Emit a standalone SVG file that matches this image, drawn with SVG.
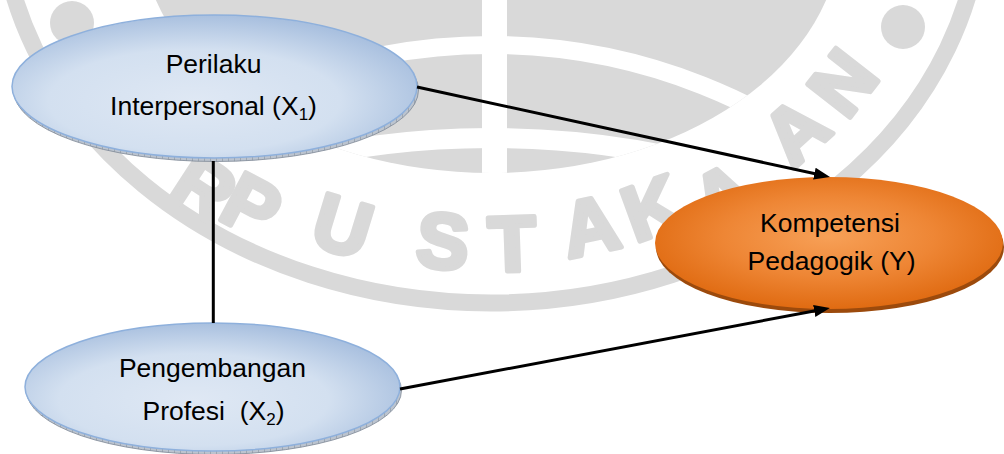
<svg xmlns="http://www.w3.org/2000/svg" width="1004" height="454" viewBox="0 0 1004 454">
<style>
.wm{fill:#d9d9d9}
.wl{font-family:"Liberation Sans",Arial,sans-serif;font-weight:bold;font-size:78px;fill:#d9d9d9;stroke:#d9d9d9;stroke-width:5;stroke-linejoin:round;text-anchor:middle}
.lbl{font-family:"Liberation Sans",Arial,sans-serif;font-size:26.5px;fill:#000;text-anchor:middle}
.sub{font-size:17px}
.conn{stroke:#000;stroke-width:3;fill:none}
</style>
<defs>
<radialGradient id="gBlue" cx="0.45" cy="0.6" r="0.6">
<stop offset="0" stop-color="#dfe8f4"/>
<stop offset="0.6" stop-color="#d3e0f0"/>
<stop offset="1" stop-color="#a9c0df"/>
</radialGradient>
<radialGradient id="gOrange" cx="0.5" cy="0.45" r="0.55">
<stop offset="0" stop-color="#f7a057"/>
<stop offset="0.55" stop-color="#ee8635"/>
<stop offset="1" stop-color="#e06b12"/>
</radialGradient>
<pattern id="hatch" width="6" height="6" patternUnits="userSpaceOnUse">
<rect width="6" height="6" fill="#bcc4cf"/>
<path d="M0,0 L0,6" stroke="#6f7a88" stroke-width="0.8"/>
</pattern>
<clipPath id="globeClip"><ellipse cx="491" cy="-70" rx="350" ry="243"/></clipPath>
<marker id="arrow" markerUnits="userSpaceOnUse" markerWidth="16" markerHeight="12" refX="8" refY="6" orient="auto">
<path d="M0,0 L16,6 L0,12 z" fill="#000"/>
</marker>
</defs>
<rect width="1004" height="454" fill="#fff"/>
<g id="watermark">
<ellipse cx="491" cy="-100" rx="491" ry="403" fill="none" stroke="#d9d9d9" stroke-width="17"/>
<g clip-path="url(#globeClip)">
<rect x="130" y="0" width="740" height="200" class="wm"/>
<circle cx="491" cy="619" r="574" fill="none" stroke="#fff" stroke-width="18"/>
<circle cx="491" cy="1021" r="883" fill="none" stroke="#fff" stroke-width="20"/>
<rect x="482" y="0" width="25" height="200" fill="#fff"/>
</g>
<circle cx="72" cy="23" r="22" class="wm"/>
<circle cx="903" cy="27" r="22" class="wm"/>
<text class="wl" transform="translate(205,187) rotate(33)" x="0" y="28">R</text>
<text class="wl" transform="translate(252,205) rotate(28)" x="0" y="28">P</text>
<text class="wl" transform="translate(343,225) rotate(17)" x="0" y="28">U</text>
<text class="wl" transform="translate(443,240) rotate(5)" x="0" y="28">S</text>
<text class="wl" transform="translate(512,243) rotate(-2)" x="0" y="28">T</text>
<text class="wl" transform="translate(590,225) rotate(-12)" x="0" y="28">A</text>
<text class="wl" transform="translate(652,207) rotate(-20)" x="0" y="28">K</text>
<text class="wl" transform="translate(723,195) rotate(-28)" x="0" y="28">A</text>
<text class="wl" transform="translate(795,130) rotate(-42)" x="0" y="28">A</text>
<text class="wl" transform="translate(842,82) rotate(-52)" x="0" y="28">N</text>
</g>
<g id="node-x1">
<ellipse cx="216" cy="90" rx="202.5" ry="71.5" fill="url(#hatch)" stroke="#7d8896" stroke-width="0.8"/>
<ellipse cx="214.5" cy="86.5" rx="202.5" ry="71.5" fill="url(#gBlue)" stroke="#8eb0dc" stroke-width="1.5"/>
<text class="lbl" x="213.5" y="73">Perilaku</text>
<text class="lbl" x="213.5" y="115">Interpersonal (X<tspan class="sub" dy="5">1</tspan><tspan dy="-5">)</tspan></text>
</g>
<g id="node-x2">
<ellipse cx="214" cy="390.5" rx="187.5" ry="64" fill="url(#hatch)" stroke="#7d8896" stroke-width="0.8"/>
<ellipse cx="212.5" cy="387" rx="187.5" ry="64" fill="url(#gBlue)" stroke="#8eb0dc" stroke-width="1.5"/>
<text class="lbl" x="212.5" y="377">Pengembangan</text>
<text class="lbl" x="213.5" y="420">Profesi&#160; (X<tspan class="sub" dy="5">2</tspan><tspan dy="-5">)</tspan></text>
</g>
<g id="node-y">
<ellipse cx="830" cy="247" rx="174" ry="66" fill="#9c4a0c"/>
<ellipse cx="829" cy="243" rx="174" ry="66" fill="url(#gOrange)"/>
<text class="lbl" x="830" y="232">Kompetensi</text>
<text class="lbl" x="831.5" y="270">Pedagogik (Y)</text>
</g>
<g id="connectors">
<line class="conn" x1="213.3" y1="161" x2="213.3" y2="323"/>
<line class="conn" x1="417" y1="87" x2="822.2" y2="175.3" marker-end="url(#arrow)"/>
<line class="conn" x1="400" y1="389" x2="822.1" y2="309.5" marker-end="url(#arrow)"/>
</g>
</svg>
